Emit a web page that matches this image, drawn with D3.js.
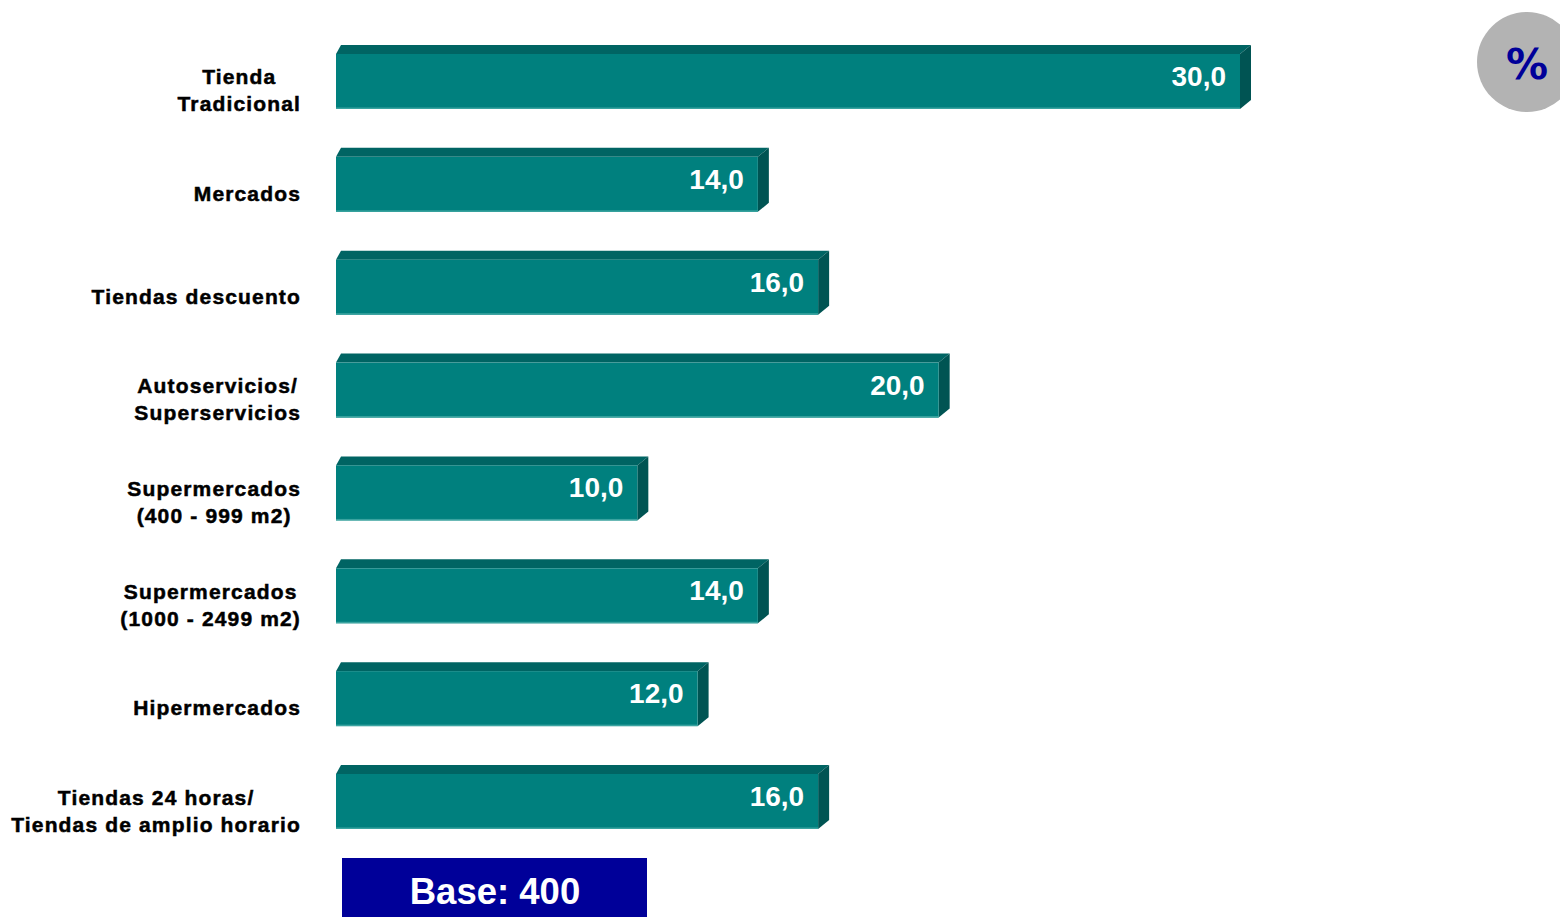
<!DOCTYPE html>
<html>
<head>
<meta charset="utf-8">
<script src="https://cdn.jsdelivr.net/npm/d3@7"></script>
<style>
  html, body { margin: 0; padding: 0; background: #ffffff; }
  svg { display: block; }
</style>
</head>
<body>
<svg id="chart" width="1560" height="917"></svg>
<script>
// Store formats, share of outlets (%)
const categories = [
  ["Tienda", "Tradicional"],
  ["Mercados"],
  ["Tiendas descuento"],
  ["Autoservicios/", "Superservicios"],
  ["Supermercados", "(400 - 999 m2)"],
  ["Supermercados", "(1000 - 2499 m2)"],
  ["Hipermercados"],
  ["Tiendas 24 horas/", "Tiendas de amplio horario"]
];
const values = [30.0, 14.0, 16.0, 20.0, 10.0, 14.0, 12.0, 16.0];
const baseText = "Base: 400";
const unitText = "%";

const svg = d3.select("#chart");
const ids = categories.map((c, i) => i);

const x = d3.scaleLinear().domain([0, 30]).range([336, 1240]);
const y = d3.scaleBand().domain(ids).range([54, 829]).paddingInner(0.4653).paddingOuter(0);

const depthX = 11, depthY = 9;
const fmt = v => d3.format(".1f")(v).replace(".", ",");

const bars = svg.append("g").selectAll("g.bar")
  .data(values.map((v, i) => ({ v, i })))
  .join("g").attr("class", "bar");

// top face
bars.append("path")
  .attr("fill", "#006463")
  .attr("d", d => {
    const x0 = x(0), x1 = x(d.v), y0 = y(d.i);
    return `M${x0},${y0} L${x0 + 5},${y0 - depthY} L${x1 + depthX},${y0 - depthY} L${x1},${y0} Z`;
  });
// side face
bars.append("path")
  .attr("fill", "#005453")
  .attr("d", d => {
    const x1 = x(d.v), y0 = y(d.i), h = y.bandwidth();
    return `M${x1},${y0} L${x1 + depthX},${y0 - depthY} L${x1 + depthX},${y0 + h - depthY} L${x1},${y0 + h} Z`;
  });
// front face
bars.append("rect")
  .attr("fill", "#00807e")
  .attr("x", x(0))
  .attr("y", d => y(d.i))
  .attr("width", d => x(d.v) - x(0))
  .attr("height", y.bandwidth());
// thin light edge at the bottom of the front face
bars.append("rect")
  .attr("fill", "#3aa3a0")
  .attr("x", x(0))
  .attr("y", d => y(d.i) + y.bandwidth() - 1.5)
  .attr("width", d => x(d.v) - x(0))
  .attr("height", 1.5);

// value labels
bars.append("text")
  .attr("x", d => x(d.v) - 14)
  .attr("y", d => y(d.i) + y.bandwidth() / 2 - 5)
  .attr("text-anchor", "end")
  .attr("dominant-baseline", "central")
  .attr("fill", "#ffffff")
  .attr("font-family", "Liberation Sans, Arial, sans-serif")
  .attr("font-weight", "bold")
  .attr("font-size", 28)
  .text(d => fmt(d.v));

// category labels: centred multi-line blocks, right edge at x = 301
const labelRight = 301, lineH = 27;
const labels = svg.append("g")
  .attr("font-family", "Liberation Sans, Arial, sans-serif")
  .attr("font-weight", "bold")
  .attr("font-size", 21)
  .attr("fill", "#000000")
  .attr("stroke", "#000000")
  .attr("stroke-width", 0.5);

categories.forEach((lines, i) => {
  const g = labels.append("g");
  const cy = y(i) + y.bandwidth() / 2 + 9;
  const texts = lines.map((t, k) => g.append("text")
    .attr("y", cy + (k - (lines.length - 1) / 2) * lineH)
    .attr("dominant-baseline", "central")
    .attr("text-anchor", "middle")
    .attr("letter-spacing", 1.15)
    .text(t));
  const w = d3.max(texts, t => t.node().getComputedTextLength());
  texts.forEach(t => t.attr("x", labelRight - w / 2));
});

// unit badge
svg.append("circle").attr("cx", 1527).attr("cy", 62).attr("r", 50).attr("fill", "#b3b3b3");
svg.append("text")
  .attr("x", 1527).attr("y", 64)
  .attr("text-anchor", "middle").attr("dominant-baseline", "central")
  .attr("font-family", "DejaVu Sans, sans-serif").attr("font-weight", "bold")
  .attr("font-size", 42).attr("fill", "#000099")
  .text(unitText);

// sample base box
svg.append("rect").attr("x", 342).attr("y", 858).attr("width", 305).attr("height", 70).attr("fill", "#000099");
svg.append("text")
  .attr("x", 495).attr("y", 891)
  .attr("text-anchor", "middle").attr("dominant-baseline", "central")
  .attr("font-family", "Liberation Sans, Arial, sans-serif").attr("font-weight", "bold")
  .attr("font-size", 36.5).attr("fill", "#ffffff")
  .text(baseText);
</script>
</body>
</html>
